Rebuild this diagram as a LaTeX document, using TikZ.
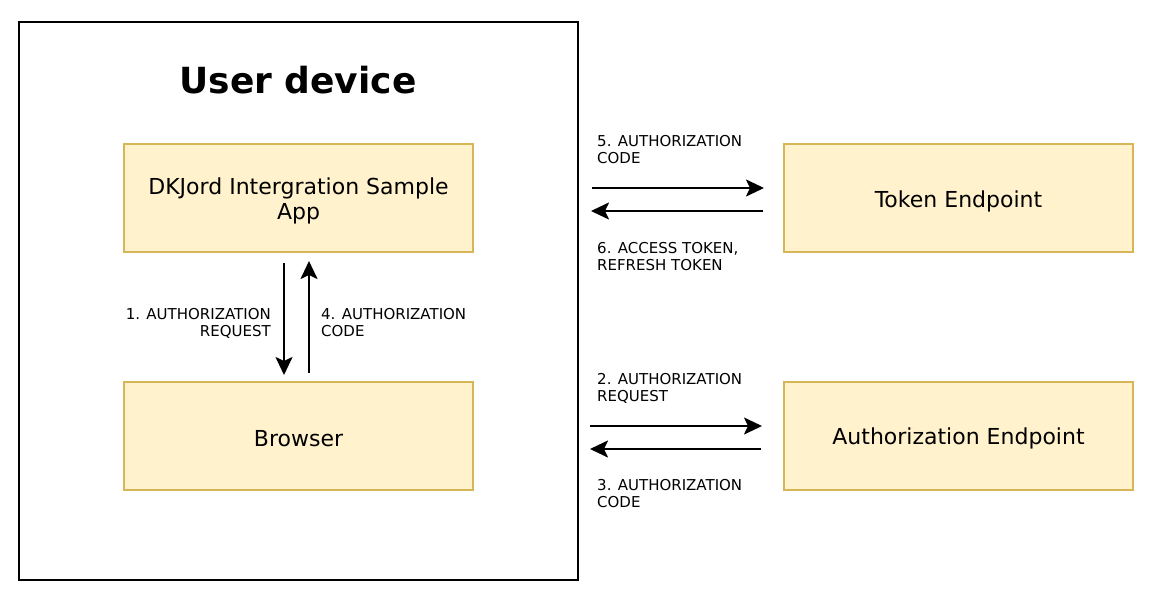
\documentclass[tikz,border=0pt]{standalone}
\usepackage{fontspec}
\setmainfont{DejaVu Sans}
\usetikzlibrary{arrows.meta}
\definecolor{boxfill}{HTML}{FFF2CC}
\definecolor{boxline}{HTML}{D6B656}
\begin{document}
\begin{tikzpicture}[x=1pt,y=-1pt,
  ybox/.style={draw=boxline,fill=boxfill,line width=2pt,minimum width=349pt,minimum height=108pt,inner sep=0pt},
  btxt/.style={align=center,inner sep=0pt,font=\fontsize{22}{25.5}\selectfont},
  lbl/.style={font=\fontsize{15}{17.5}\selectfont,inner sep=0pt},
  arr/.style={line width=2.2pt,-{Stealth[length=18pt,width=17pt,inset=4pt]}}]
\useasboundingbox (0,0) rectangle (1174,610);
\node[draw=black,line width=2pt,minimum width=559pt,minimum height=558pt,inner sep=0pt] (dev) at (298.5,301) {};
\node[font=\fontsize{36}{40}\selectfont\bfseries] (title) at (298,80) {User device};
\node[ybox] (app) at (298.5,198) {};
\node[btxt] (appt) at ([yshift=-3pt]app.center) {DKJord Intergration Sample\\App};
\node[ybox] (br) at (298.5,435.5) {};
\node[btxt] (brt) at ([yshift=-3pt]br.center) {Browser};
\node[ybox] (tok) at (958.5,198) {};
\node[btxt] (tokt) at ([yshift=-3pt]tok.center) {Token Endpoint};
\node[ybox] (auth) at (958.5,435.5) {};
\node[btxt] (autht) at ([yshift=-3pt]auth.center) {Authorization Endpoint};
% vertical
\coordinate (a1s) at (284,263);
\coordinate (a1e) at (284,375);
\coordinate (a4s) at (309,373);
\coordinate (a4e) at (309,261);
\draw[arr] (a1s) -- (a1e);
\draw[arr] (a4s) -- (a4e);
\node[lbl,align=right,anchor=north east] (l1) at (271,308) {1. AUTHORIZATION\\REQUEST};
\node[lbl,align=left,anchor=north west] (l4) at (321,308) {4. AUTHORIZATION\\CODE};
% top horizontal
\coordinate (a5s) at (592,188);
\coordinate (a5e) at (764,188);
\coordinate (a6s) at (763,211);
\coordinate (a6e) at (591,211);
\draw[arr] (a5s) -- (a5e);
\draw[arr] (a6s) -- (a6e);
\node[lbl,align=left,anchor=north west] (l5) at (597,135) {5. AUTHORIZATION\\CODE};
\node[lbl,align=left,anchor=north west] (l6) at (597,242) {6. ACCESS TOKEN,\\REFRESH TOKEN};
% bottom horizontal
\coordinate (a2s) at (590,426);
\coordinate (a2e) at (762,426);
\coordinate (a3s) at (761,449);
\coordinate (a3e) at (590,449);
\draw[arr] (a2s) -- (a2e);
\draw[arr] (a3s) -- (a3e);
\node[lbl,align=left,anchor=north west] (l2) at (597,373) {2. AUTHORIZATION\\REQUEST};
\node[lbl,align=left,anchor=north west] (l3) at (597,479) {3. AUTHORIZATION\\CODE};
\end{tikzpicture}
\end{document}
